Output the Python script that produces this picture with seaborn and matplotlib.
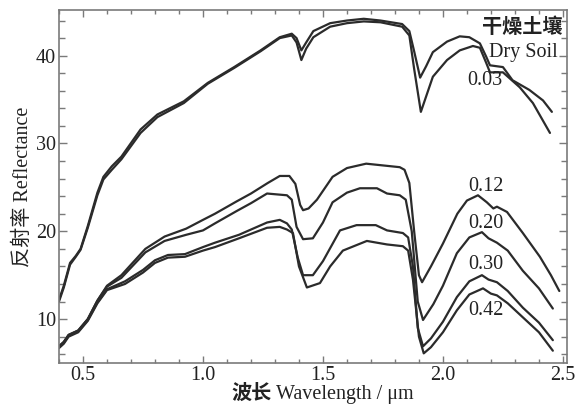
import numpy as np
import pandas as pd
import matplotlib
matplotlib.use("Agg")
import matplotlib.pyplot as plt
import seaborn as sns
from matplotlib.ticker import MultipleLocator

# ---- data ----
wl_dry = [0.40, 0.42, 0.446, 0.47, 0.49, 0.52, 0.56, 0.585, 0.62, 0.66, 0.74, 0.81, 0.92, 1.02, 1.13,
          1.24, 1.32, 1.37, 1.39, 1.41, 1.43, 1.46, 1.53, 1.60, 1.67, 1.74, 1.83, 1.86, 1.88, 1.905,
          1.93, 1.958, 2.017, 2.07, 2.11, 2.154, 2.18, 2.196, 2.25, 2.29, 2.36, 2.417, 2.454]
r_dry = [12.2, 13.8, 16.4, 17.2, 18.0, 20.6, 24.4, 26.2, 27.4, 28.5, 31.6, 33.3, 34.8, 36.9, 38.7,
         40.6, 42.1, 42.5, 42.0, 40.6, 41.5, 42.8, 43.7, 44.0, 44.2, 44.0, 43.6, 42.8, 40.5, 37.5,
         38.8, 40.4, 41.6, 42.2, 42.1, 41.4, 39.9, 38.9, 38.7, 37.2, 36.1, 34.9, 33.6]

wl_003 = [0.40, 0.42, 0.446, 0.47, 0.49, 0.52, 0.56, 0.585, 0.62, 0.66, 0.74, 0.81, 0.92, 1.02, 1.13,
          1.24, 1.32, 1.37, 1.39, 1.41, 1.43, 1.46, 1.53, 1.60, 1.67, 1.74, 1.83, 1.86, 1.88, 1.908,
          1.958, 2.017, 2.07, 2.125, 2.154, 2.18, 2.196, 2.25, 2.32, 2.375, 2.446]
r_003 = [12.0, 13.6, 16.2, 17.1, 17.9, 20.4, 24.1, 25.9, 27.0, 28.2, 31.2, 33.0, 34.6, 36.8, 38.6,
         40.5, 42.0, 42.3, 41.5, 39.5, 40.8, 42.1, 43.3, 43.7, 43.9, 43.8, 43.3, 42.3, 38.5, 33.6,
         37.6, 39.5, 40.6, 41.1, 40.9, 39.2, 38.1, 38.1, 36.4, 34.6, 31.2]

wl_012 = [0.40, 0.42, 0.44, 0.48, 0.52, 0.56, 0.60, 0.66, 0.76, 0.84, 0.93, 1.00, 1.05, 1.14, 1.20,
          1.27, 1.32, 1.36, 1.385, 1.405, 1.417, 1.44, 1.475, 1.51, 1.54, 1.60, 1.68, 1.75, 1.82,
          1.84, 1.86, 1.88, 1.90, 1.913, 1.95, 2.00, 2.06, 2.10, 2.146, 2.183, 2.21, 2.225, 2.267,
          2.333, 2.404, 2.45, 2.485]
r_012 = [6.9, 7.4, 8.2, 8.7, 10.0, 12.1, 13.8, 15.0, 18.0, 19.4, 20.3, 21.3, 22.0, 23.4, 24.3,
         25.5, 26.3, 26.3, 25.4, 23.0, 22.4, 22.6, 23.6, 25.0, 26.2, 27.2, 27.7, 27.5, 27.3,
         27.0, 25.5, 20.0, 15.0, 14.2, 16.0, 18.6, 22.0, 23.5, 24.1, 23.3, 22.6, 22.8, 22.2,
         19.8, 17.1, 15.0, 13.2]

wl_020 = [0.40, 0.42, 0.44, 0.48, 0.52, 0.56, 0.60, 0.66, 0.76, 0.84, 0.93, 1.00, 1.05, 1.14, 1.20,
          1.267, 1.35, 1.37, 1.39, 1.417, 1.458, 1.50, 1.54, 1.60, 1.654, 1.725, 1.767, 1.82, 1.845,
          1.87, 1.895, 1.917, 1.96, 2.00, 2.058, 2.11, 2.1625, 2.19, 2.225, 2.27, 2.333, 2.40, 2.458]
r_020 = [6.9, 7.4, 8.2, 8.7, 10.0, 12.1, 13.7, 14.7, 17.6, 18.9, 19.6, 20.1, 20.9, 22.3, 23.2,
         24.3, 24.1, 23.6, 20.5, 19.1, 19.2, 21.0, 23.3, 24.4, 24.9, 24.9, 24.3, 24.1, 23.6,
         20.0, 12.0, 9.9, 11.7, 13.8, 17.5, 19.3, 19.9, 19.2, 18.7, 17.8, 15.5, 13.5, 11.2]

wl_030 = [0.40, 0.42, 0.44, 0.48, 0.52, 0.56, 0.60, 0.675, 0.75, 0.80, 0.854, 0.925, 1.00, 1.05, 1.15,
          1.267, 1.32, 1.35, 1.37, 1.395, 1.417, 1.458, 1.50, 1.571, 1.64, 1.72, 1.767, 1.833, 1.855,
          1.875, 1.895, 1.917, 1.95, 2.00, 2.058, 2.11, 2.1625, 2.19, 2.225, 2.27, 2.333, 2.40, 2.458]
r_030 = [6.8, 7.3, 8.1, 8.6, 9.9, 11.9, 13.4, 14.3, 15.6, 16.7, 17.3, 17.4, 18.2, 18.7, 19.6,
         21.0, 21.3, 20.9, 20.2, 17.0, 15.0, 15.0, 16.6, 20.1, 20.7, 20.7, 20.1, 19.8, 19.3,
         16.0, 9.0, 6.9, 7.8, 9.7, 12.5, 14.3, 15.0, 14.5, 14.2, 13.2, 11.3, 9.6, 7.6]

wl_042 = [0.40, 0.42, 0.44, 0.48, 0.52, 0.56, 0.60, 0.675, 0.75, 0.80, 0.854, 0.925, 1.00, 1.05, 1.15,
          1.267, 1.32, 1.35, 1.375, 1.40, 1.433, 1.4875, 1.53, 1.583, 1.683, 1.767, 1.833, 1.855,
          1.875, 1.90, 1.92, 1.95, 2.00, 2.058, 2.11, 2.167, 2.20, 2.225, 2.27, 2.333, 2.40, 2.458]
r_042 = [6.7, 7.2, 8.0, 8.5, 9.8, 11.8, 13.3, 14.0, 15.3, 16.4, 17.0, 17.1, 17.8, 18.2, 19.2,
         20.4, 20.5, 20.2, 19.8, 16.0, 13.6, 14.1, 16.0, 17.8, 18.9, 18.5, 18.3, 17.8,
         14.5, 8.0, 6.1, 6.8, 8.5, 11.0, 12.8, 13.5, 12.9, 12.7, 11.8, 10.2, 8.5, 6.4]

curve_names = ["dry", "0.03", "0.12", "0.20", "0.30", "0.42"]
label_texts = ["0.03", "0.12", "0.20", "0.30", "0.42"]
label_x = [2.175, 2.18, 2.18, 2.18, 2.18]
label_y = [37.2, 25.1, 20.9, 16.2, 11.0]

frames = []
for name, wl, r in zip(curve_names,
                       [wl_dry, wl_003, wl_012, wl_020, wl_030, wl_042],
                       [r_dry, r_003, r_012, r_020, r_030, r_042]):
    frames.append(pd.DataFrame({"wl": wl, "r": r, "curve": name}))
df = pd.concat(frames, ignore_index=True)

# ---- style ----
sns.set_theme(style="white")
plt.rcParams['font.family'] = ['Liberation Serif', 'Noto Sans CJK SC', 'DejaVu Sans']

fig = plt.figure(figsize=(5.76, 4.04), dpi=100)
ax = fig.add_axes([59/576, 1-363/404, (567-59)/576, (363-10)/404])

sns.lineplot(data=df, x="wl", y="r", hue="curve", units="curve", estimator=None, sort=False,
             palette=["#2b2b2b"]*6, linewidth=1.6, legend=False, ax=ax)

ax.set_xlim(0.4, 2.517)
ax.set_ylim(5.0, 45.2)
ax.xaxis.set_minor_locator(MultipleLocator(0.1))
ax.yaxis.set_minor_locator(MultipleLocator(2))
ax.set_xticks([0.5, 1.0, 1.5, 2.0, 2.5])
ax.set_xticklabels(["0.5", "1.0", "1.5", "2.0", "2.5"])
ax.set_yticks([10, 20, 30, 40])

spine_c = "#7a7a7a"
for s in ax.spines.values():
    s.set_color(spine_c)
    s.set_linewidth(1.2)
ax.tick_params(axis="both", which="both", direction="in", color=spine_c,
               top=True, right=True, bottom=True, left=True, labelsize=14.5, labelcolor="#222222")
ax.tick_params(axis="y", which="major", length=6, width=1.0, pad=2)
ax.tick_params(axis="y", which="minor", length=4, width=1.0)
ax.tick_params(axis="x", which="major", length=5, width=1.0, pad=2)
ax.tick_params(axis="x", which="minor", length=3, width=1.0)
ax.set_xlabel("")
ax.set_ylabel("反射率 Reflectance", fontsize=14.5, color="#222222", labelpad=2)

# x label: bold Chinese part + regular English part
fig.text(272/576, 1-399/404, "波长", fontsize=14.5, fontweight="bold", ha="right", va="baseline",
         color="#222222", family=['Noto Sans CJK SC', 'DejaVu Sans'])
fig.text(276/576, 1-399/404, "Wavelength / μm", fontsize=14.5, ha="left", va="baseline",
         color="#222222")

ax.text(2.497, 43.3, "干燥土壤", fontsize=14.5, fontweight="bold", ha="right", va="center",
        color="#222222", family=['Noto Sans CJK SC', 'DejaVu Sans'])
ax.text(2.48, 40.4, "Dry Soil", fontsize=14.5, ha="right", va="center", color="#222222")
for t, x, y in zip(label_texts, label_x, label_y):
    ax.text(x, y, t, fontsize=14.5, ha="center", va="center", color="#222222")

fig.savefig("out.png", dpi=100)
